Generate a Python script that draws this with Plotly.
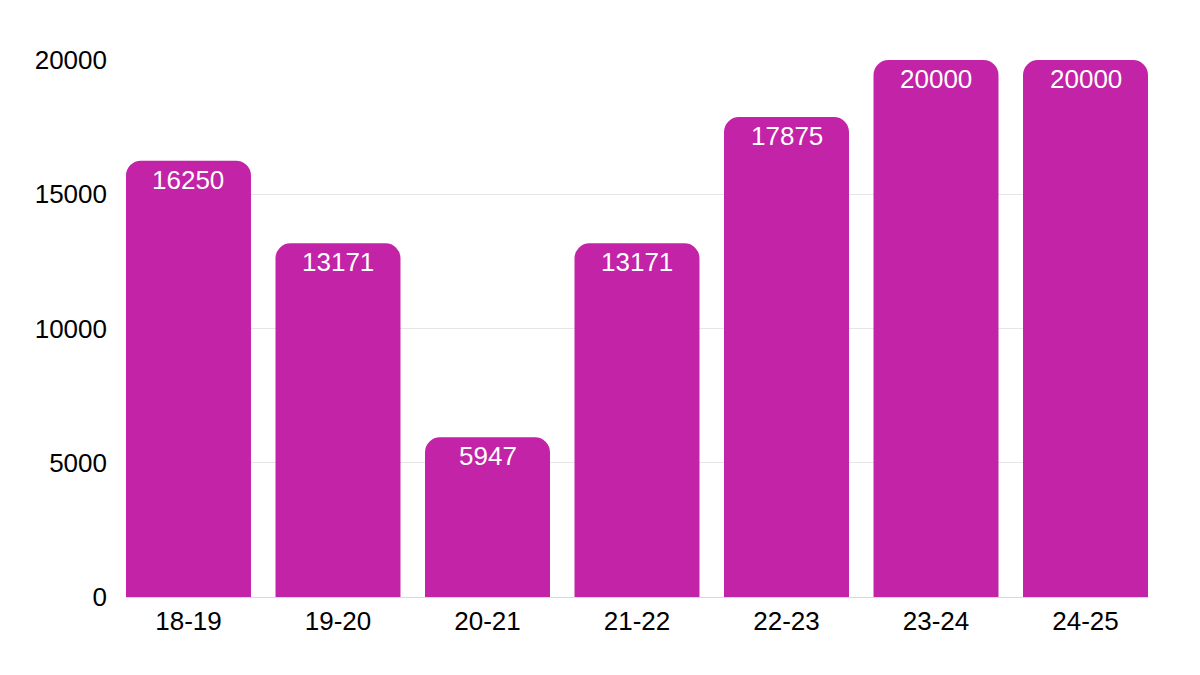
import plotly.graph_objects as go

# --- data ---
seasons = ["18-19", "19-20", "20-21", "21-22", "22-23", "23-24", "24-25"]
values = [16250, 13171, 5947, 13171, 17875, 20000, 20000]
y_ticks = [0, 5000, 10000, 15000, 20000]

BAR_COLOR = "#C223A7"
FONT = "Liberation Sans, Arial, sans-serif"
BAR_FRAC = 0.836  # bar width as a share of the category slot

fig = go.Figure(
    go.Bar(
        x=seasons,
        y=values,
        width=BAR_FRAC,
        marker=dict(color=BAR_COLOR, cornerradius=15, line=dict(width=0)),
        hoverinfo="x+y",
    )
)

# value labels just under the top of each bar
for s, v in zip(seasons, values):
    fig.add_annotation(
        x=s, y=v, text=str(v),
        showarrow=False, yanchor="top", yshift=-2,
        font=dict(color="white", size=26, family=FONT),
    )

fig.update_layout(
    width=1200,
    height=675,
    margin=dict(l=118, r=60, t=52, b=86),
    plot_bgcolor="white",
    paper_bgcolor="white",
    showlegend=False,
    font=dict(family=FONT, size=26, color="black"),
)
# grid runs exactly from the first bar's left edge to the last bar's right edge
fig.update_xaxes(
    range=[-BAR_FRAC / 2, len(seasons) - 1 + BAR_FRAC / 2],
    showgrid=False,
    ticks="",
    tickfont=dict(size=26, color="black"),
    showline=False,
    ticklabelstandoff=6,
)
fig.update_yaxes(
    range=[0, 20000],
    tickvals=y_ticks,
    ticktext=[str(t) for t in y_ticks],
    showgrid=True,
    gridcolor="#e6e6e6",
    gridwidth=1,
    zeroline=True,
    zerolinecolor="#d9d9d9",
    zerolinewidth=1,
    tickfont=dict(size=26, color="black"),
    ticklabelstandoff=18,
)

fig.write_html("out.html")
